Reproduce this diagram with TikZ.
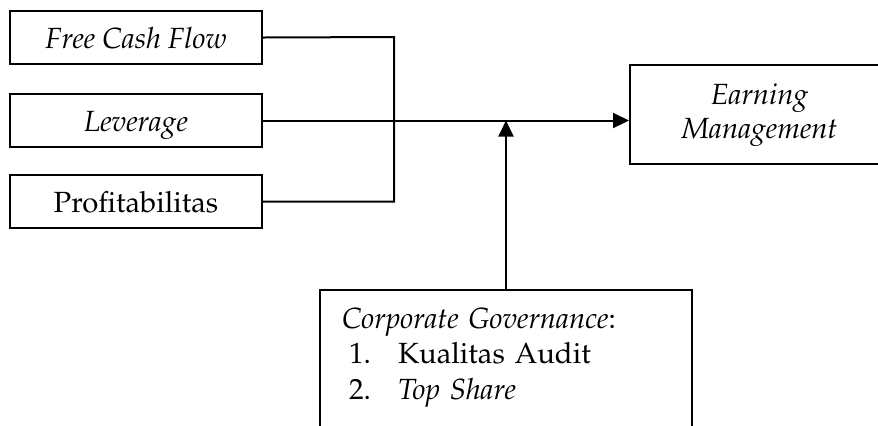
\documentclass[tikz,border=0pt]{standalone}
\usepackage[T1]{fontenc}
\usepackage{mathpazo}
\usetikzlibrary{arrows.meta}

\begin{document}
\begin{tikzpicture}[x=0.5pt,y=0.5pt,yscale=-1,
  varbox/.style={draw, line width=1pt, inner sep=0pt, minimum width=126pt, minimum height=26.5pt,
    text height=11pt, text depth=0pt, font=\fontsize{14.6}{17.75}\selectfont},
  link/.style={line width=1pt},
  arr/.style={line width=1pt, -{Triangle[length=8pt,width=7.5pt]}}]
\clip (0,0) rectangle (878,425);

%Shape: Rectangle
\node[varbox] (fcf) at (136,37.5) {\textit{Free Cash Flow}};
%Shape: Rectangle
\node[varbox] (lev) at (136,120.5) {\textit{Leverage}};
%Shape: Rectangle
\node[varbox] (prof) at (136,201.5) {Profitabilitas};

%Shape: Rectangle
\node[draw, line width=1pt, inner sep=0pt, minimum width=129.5pt, minimum height=49.5pt,
  align=center, font=\fontsize{14.6}{17}\selectfont] (earn) at (759.5,114.5)
  {\textit{Earning}\\\textit{Management}};

%Shape: Rectangle
\node[draw, line width=1pt, anchor=north, text width=164pt, inner xsep=11pt, inner ysep=0pt,
  text height=19pt, text depth=90pt, align=left, font=\fontsize{14.6}{17.75}\selectfont] (gov) at (506,289)
  {\textit{Corporate Governance}:\\
   \hspace*{3.5pt}\makebox[24.5pt][l]{1.}Kualitas Audit\\
   \hspace*{3.5pt}\makebox[24.5pt][l]{2.}\textit{Top Share}};

%Straight Lines
\coordinate (join) at (394,37);
\draw[link] (fcf.east) -- (join) -- (join |- prof.east) -- (prof.east);

%Straight Lines
\draw[arr] (lev.east) -- (lev.east -| earn.west);

%Straight Lines
\draw[arr] (gov.north) -- (gov.north |- lev.east);

\end{tikzpicture}
\end{document}
